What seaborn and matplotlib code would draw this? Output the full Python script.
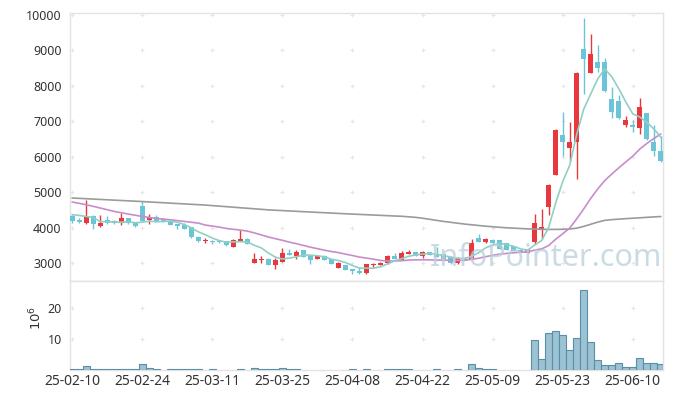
import numpy as np
import pandas as pd
import matplotlib
matplotlib.use("Agg")
import matplotlib.pyplot as plt
import seaborn as sns

# ---------------- data ----------------
tick_labels = ["25-02-10", "25-02-24", "25-03-11", "25-03-25", "25-04-08",
               "25-04-22", "25-05-09", "25-05-23", "25-06-10"]

opens = [4340, 4227, 4124, 4341, 4039, 4227, 4180, 4124, 4284, 4152,
         4624, 4208, 4303, 4246, 4199, 4095, 4067, 4010, 3746, 3614,
         3633, 3630, 3614, 3472, 3633, 3680, 3019, 3104, 3123, 2962,
         3047, 3303, 3217, 3369, 3208, 3133, 3217, 3123, 2877, 2943,
         2840, 2793, 2717, 2943, 2962, 3000, 3217, 3095, 3274, 3321,
         3217, 3321, 3265, 3265, 3189, 3000, 3114, 3100, 3717, 3586,
         3661, 3661, 3567, 3491, 3378, 3303, 3597, 3925, 4591, 5491,
         6625, 6241, 6409, 9034, 8378, 8678, 8678, 7628, 7581, 6888,
         6906, 6803, 7234, 6428, 6175]
closes = [4180, 4152, 4303, 4105, 4143, 4133, 4133, 4284, 4133, 4039,
          4199, 4284, 4190, 4180, 4086, 4039, 3972, 3727, 3614, 3661,
          3586, 3600, 3510, 3661, 3690, 3548, 3123, 3133, 2962, 3095,
          3293, 3246, 3321, 3189, 3095, 3208, 3095, 2981, 3010, 2811,
          2793, 2717, 2981, 2991, 3019, 3208, 3123, 3303, 3321, 3217,
          3321, 3227, 3189, 3133, 3000, 3161, 3151, 3560, 3603, 3690,
          3567, 3397, 3378, 3359, 3321, 3397, 4122, 4009, 5219, 6766,
          6409, 6428, 8369, 8772, 8903, 8519, 7844, 7253, 7084, 7047,
          6831, 7403, 6494, 6166, 5875]
highs = [4360, 4275, 4794, 4350, 4369, 4341, 4227, 4416, 4290, 4160,
         4747, 4388, 4350, 4270, 4246, 4100, 4133, 4020, 3760, 3700,
         3661, 3661, 3620, 3680, 3925, 3708, 3283, 3208, 3142, 3161,
         3444, 3416, 3378, 3378, 3215, 3230, 3236, 3130, 3030, 2960,
         2850, 2887, 2990, 3019, 3030, 3220, 3290, 3350, 3360, 3330,
         3340, 3330, 3453, 3275, 3200, 3180, 3170, 3690, 3822, 3720,
         3680, 3670, 3580, 3500, 3390, 3410, 4403, 4516, 5230, 6780,
         7263, 6981, 8380, 9906, 9456, 9147, 8800, 7984, 7731, 7159,
         7028, 7656, 7240, 6900, 6591]
lows = [4130, 4140, 4105, 3963, 4030, 4095, 4105, 4076, 4120, 4030,
        4190, 4105, 4180, 4170, 4080, 3972, 3960, 3720, 3586, 3567,
        3548, 3567, 3500, 3453, 3614, 3540, 3000, 3019, 2943, 2830,
        3028, 3240, 3123, 3180, 2981, 3120, 3085, 2970, 2870, 2800,
        2689, 2710, 2710, 2906, 2955, 2990, 3110, 3090, 3265, 3210,
        3142, 3220, 3180, 3120, 2990, 2990, 3100, 3085, 3595, 3570,
        3550, 3390, 3370, 3350, 3310, 3295, 3531, 3672, 4375, 5480,
        6016, 5875, 5378, 7769, 8370, 8406, 7830, 7094, 7070, 6841,
        6700, 6653, 6480, 6016, 5860]
volume_m = [0.3, 0.3, 1.4, 0.3, 0.3, 0.3, 0.3, 0.3, 0.3, 0.3,
            1.8, 0.5, 0.3, 0, 0.3, 0.3, 0.3, 0.3, 0.3, 0,
            0.3, 0, 0, 0, 0.3, 0, 0.75, 0.3, 0.3, 0.3,
            0.75, 0.3, 0.3, 0, 0, 0, 0, 0, 0, 0,
            0.3, 0, 0.3, 0, 0, 0.3, 0.3, 0.3, 0.3, 0,
            0, 0, 0.3, 0, 0, 0.3, 0, 2.0, 0.55, 0.3,
            0.3, 0, 0, 0, 0, 0, 9.8, 3.4, 12.0, 12.5,
            11.4, 6.3, 10.4, 25.9, 8.9, 3.1, 1.7, 1.7, 2.4, 0.9,
            0.9, 3.8, 2.2, 2.4, 1.8]
# moving-average values before a full window is available
ma5_head = [4370, 4350, 4320, 4290]
ma20_head = [4728, 4690, 4652, 4605, 4558, 4510, 4463, 4425, 4388, 4355,
             4322, 4293, 4265, 4246, 4227, 4203, 4180, 4156, 4133]
# long moving average (grey line)
ma_long = [4840, 4830, 4820, 4810, 4800, 4790, 4780, 4770, 4760, 4750,
           4740, 4729, 4718, 4707, 4696, 4685, 4674, 4663, 4652, 4641,
           4626, 4611, 4596, 4581, 4566, 4551, 4536, 4521, 4505, 4495,
           4485, 4475, 4465, 4455, 4445, 4435, 4425, 4415, 4405, 4396,
           4387, 4378, 4369, 4360, 4351, 4342, 4333, 4325, 4310, 4295,
           4270, 4240, 4210, 4180, 4155, 4130, 4105, 4085, 4065, 4045,
           4030, 4015, 4000, 3990, 3980, 3970, 3963, 3958, 3955, 3955,
           3958, 3965, 3990, 4040, 4100, 4160, 4210, 4230, 4245, 4258,
           4270, 4282, 4295, 4307, 4318]

# ---------------- styling ----------------
sns.set_style("white")
plt.rcParams["font.family"] = ["Noto Sans", "DejaVu Sans"]

UP = "#e8383d"
DOWN = "#6cc4d8"
TXT = "#333333"
SPINE = "#e3e3e3"

df = pd.DataFrame({"open": opens, "high": highs, "low": lows,
                   "close": closes, "vol": volume_m})
df["day"] = np.arange(len(df))
c = df["close"]
ma5 = c.rolling(5).mean()
ma5.iloc[:len(ma5_head)] = ma5_head
ma20 = c.rolling(20).mean()
ma20.iloc[:len(ma20_head)] = ma20_head
df["ma5"] = ma5
df["ma20"] = ma20
df["malong"] = ma_long

W, H = 673, 399
fig = plt.figure(figsize=(W / 100, H / 100), dpi=100)
L, R = 70, 663.3
T1, B1, B2 = 13.3, 281, 370
ax = fig.add_axes([L / W, (H - B1) / H, (R - L) / W, (B1 - T1) / H])
axv = fig.add_axes([L / W, (H - B2) / H, (R - L) / W, (B2 - B1) / H], sharex=ax)

# ---------------- candles ----------------
up = df["close"] >= df["open"]
cols = np.where(up, UP, DOWN)
body_lo = df[["open", "close"]].min(axis=1)
body_h = (df["close"] - df["open"]).abs().clip(lower=30)
ax.vlines(df["day"], df["low"], df["high"], colors=cols, linewidth=1.0, zorder=3)
ax.bar(df["day"], body_h, bottom=body_lo, width=0.72, color=cols,
       linewidth=0, zorder=4)

# ---------------- moving averages ----------------
sns.lineplot(data=df, x="day", y="malong", ax=ax, color="#9b9b9b", linewidth=1.2, zorder=5)
sns.lineplot(data=df, x="day", y="ma20", ax=ax, color="#c98ccb", linewidth=1.2, zorder=5)
sns.lineplot(data=df, x="day", y="ma5", ax=ax, color="#90d0c4", linewidth=1.2, zorder=5)

# ---------------- volume ----------------
vdf = df[df["vol"] > 0]
sns.barplot(data=vdf, x="day", y="vol", ax=axv, native_scale=True, width=1.0,
            color="#9cc2d3", saturation=1, edgecolor="#5a8fa8", linewidth=0.8,
            errorbar=None, zorder=3)

# ---------------- axes ----------------
xt = np.arange(0, len(df), 10)
ax.set_xlim(-0.3, 84.35)
ax.set_ylim(2500, 10048)
axv.set_ylim(0, 28.7)
yt_price = np.arange(3000, 10001, 1000)
yt_vol = [10, 20]
ax.set_yticks(yt_price)
ax.set_yticklabels([str(v) for v in yt_price])
axv.set_yticks(yt_vol)
axv.set_yticklabels([str(v) for v in yt_vol])
axv.set_xticks(xt)
axv.set_xticklabels(tick_labels)
ax.tick_params(axis="x", labelbottom=False, length=0)
for a in (ax, axv):
    a.tick_params(axis="y", length=0, pad=6, labelsize=9, labelcolor=TXT)
    a.set_xlabel("")
    a.set_ylabel("")
    for s in a.spines.values():
        s.set_color(SPINE)
        s.set_linewidth(1.0)
    a.grid(False)
axv.tick_params(axis="x", length=0, pad=3, labelsize=10, labelcolor=TXT)

# "+" grid markers at tick intersections
gx, gy = np.meshgrid(xt, yt_price)
ax.scatter(gx.ravel(), gy.ravel(), marker="+", s=12, color="#e6e6e6",
           linewidths=0.8, zorder=1)
gx2, gy2 = np.meshgrid(xt, yt_vol)
axv.scatter(gx2.ravel(), gy2.ravel(), marker="+", s=12, color="#e6e6e6",
            linewidths=0.8, zorder=1)

fig.text(36 / W, 1 - 318 / H, r"$10^{6}$", rotation=90, ha="center",
         va="center", fontsize=9.5, color=TXT)

ax.text(0.802, 0.086, "InfoPointer.com", transform=ax.transAxes, ha="center",
        va="center", fontsize=22, color="#b9cfdc", alpha=0.75, zorder=10)

fig.savefig("out.png", dpi=100)
